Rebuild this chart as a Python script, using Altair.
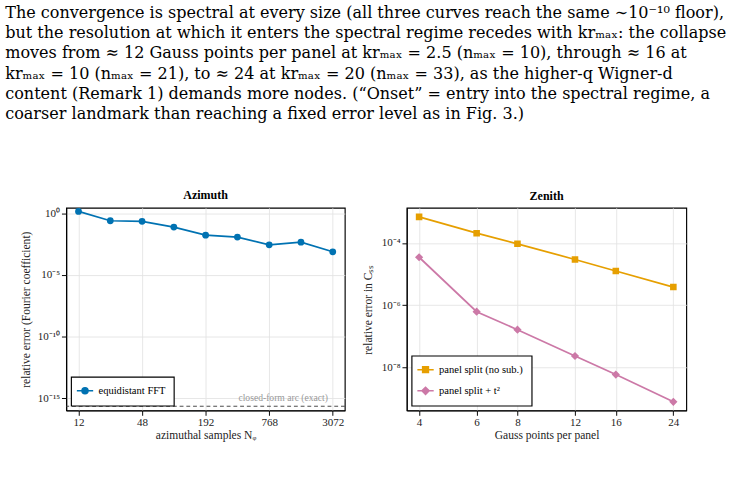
import altair as alt
import pandas as pd

# ---------------- text above the figure ----------------
para_lines = [
    "The convergence is spectral at every size (all three curves reach the same \u223c10\u207b\u00b9\u2070 floor),",
    "but the resolution at which it enters the spectral regime recedes with kr\u2098\u2090\u2093: the collapse",
    "moves from \u2248 12 Gauss points per panel at kr\u2098\u2090\u2093 = 2.5 (n\u2098\u2090\u2093 = 10), through \u2248 16 at",
    "kr\u2098\u2090\u2093 = 10 (n\u2098\u2090\u2093 = 21), to \u2248 24 at kr\u2098\u2090\u2093 = 20 (n\u2098\u2090\u2093 = 33), as the higher-q Wigner-d",
    "content (Remark 1) demands more nodes. (\u201cOnset\u201d = entry into the spectral regime, a",
    "coarser landmark than reaching a fixed error level as in Fig. 3.)",
]

# ---------------- Azimuth panel data ----------------
az_N = [12, 24, 48, 96, 192, 384, 768, 1536, 3072]
az_err = [1.43, 0.25, 0.225, 0.077, 0.017, 0.0118, 0.0028, 0.0046, 7.6e-4]
az_series = ["equidistant FFT"]
az_ticks = [12, 48, 192, 768, 3072]
az_yticks = [1, 1e-5, 1e-10, 1e-15]
eps_floor = [2.22e-16]
eps_label = ["closed-form arc (exact)"]

# ---------------- Zenith panel data ----------------
zen_q = [4, 6, 8, 12, 16, 24]
zen_nosub = [7.0e-4, 2.09e-4, 9.5e-5, 2.97e-5, 1.26e-5, 3.83e-6]
zen_t2 = [3.5e-5, 6.15e-7, 1.62e-7, 2.3e-8, 5.8e-9, 7.7e-10]
zen_series = ["panel split (no sub.)", "panel split + t\u00b2"]
zen_yticks = [1e-4, 1e-6, 1e-8]

BLUE, ORANGE, PINK = "#0072B2", "#E69F00", "#CC79A7"
SERIF = "Liberation Serif"
PARA_FONT = "DejaVu Serif"

# marker glyphs with a short line through them (the line has no area, so it is
# invisible when only filled, and shows in the legend where the symbol is stroked)
P_CIRCLE = "M-1.7,0H1.7M-0.62,0A0.62,0.62,0,1,1,0.62,0A0.62,0.62,0,1,1,-0.62,0Z"
P_SQUARE = "M-1.7,0H1.7M-0.6,-0.6H0.6V0.6H-0.6Z"
P_DIAMOND = "M-1.7,0H1.7M0,-0.75L0.75,0L0,0.75L-0.75,0Z"


def pow10_expr(exps):
    sup = {"-": "\u207b", "0": "\u2070", "1": "\u00b9", "2": "\u00b2", "3": "\u00b3",
           "4": "\u2074", "5": "\u2075", "6": "\u2076", "7": "\u2077", "8": "\u2078", "9": "\u2079"}
    expr = "''"
    for e in exps:
        s = "10" + "".join(sup[c] for c in str(e))
        expr = f"round(log(datum.value)/LN10) == {e} ? '{s}' : " + expr
    return expr


LEG_STYLE = dict(
    title=None, orient="bottom-left", offset=5,
    fillColor="white", strokeColor="black", cornerRadius=0,
    padding=8.5, symbolSize=100, symbolStrokeWidth=1.6, symbolOpacity=1, labelOffset=8,
    labelFont=SERIF, labelFontSize=11, labelColor="black", rowPadding=8,
)

# ================= Azimuth =================
az_df = pd.DataFrame({"N": az_N, "err": az_err, "series": az_series * len(az_N)})
eps_df = pd.DataFrame({"eps": eps_floor, "label": eps_label, "N": [az_N[-1]]})

sxA = alt.Scale(type="log", base=2, domain=[9.19, 4000], nice=False)
syA = alt.Scale(type="log", domain=[1e-16, 2.8], nice=False)
xA = alt.X("N:Q", scale=sxA, axis=alt.Axis(values=az_ticks, format="d", title="azimuthal samples N\u1d69",
                                           titlePadding=2))
yA = alt.Y("err:Q", scale=syA,
           axis=alt.Axis(values=az_yticks, labelExpr=pow10_expr([0, -5, -10, -15]),
                         title="relative error (Fourier coefficient)",
                         titleX=-42, titleBaseline="middle"))
colA = alt.Scale(domain=az_series, range=[BLUE])

base_az = alt.Chart(az_df)
az_line = base_az.mark_line(strokeWidth=1.8).encode(
    x=xA, y=yA, color=alt.Color("series:N", scale=colA))
az_pts = base_az.mark_point(filled=True, size=50, opacity=1, shape="circle").encode(
    x=xA, y=yA,
    color=alt.Color("series:N", scale=colA,
                    legend=alt.Legend(symbolType=P_CIRCLE, symbolStrokeColor=BLUE,
                                      symbolFillColor=BLUE, **LEG_STYLE)))
eps_rule = alt.Chart(eps_df).mark_rule(color="#444444", strokeDash=[4, 3], strokeWidth=1).encode(
    y=alt.Y("eps:Q", scale=syA))
eps_text = alt.Chart(eps_df).mark_text(align="right", baseline="bottom", dx=-5, dy=-3,
                                       font=SERIF, fontSize=10, color="#999999").encode(
    x=alt.X("N:Q", scale=sxA), y=alt.Y("eps:Q", scale=syA), text="label:N")

azimuth = alt.layer(az_line, az_pts, eps_rule, eps_text).properties(
    width=290, height=211,
    title=alt.TitleParams("Azimuth", font=SERIF, fontSize=12.5, fontWeight="bold", offset=6, anchor="middle"))

# ================= Zenith =================
zen_df = pd.DataFrame({
    "q": zen_q * 2,
    "err": zen_nosub + zen_t2,
    "series": [zen_series[0]] * len(zen_q) + [zen_series[1]] * len(zen_q),
})
sxZ = alt.Scale(type="log", base=2, domain=[3.668, 26.3], nice=False)
syZ = alt.Scale(type="log", domain=[4.03e-10, 1.37e-3], nice=False)
xZ = alt.X("q:Q", scale=sxZ, axis=alt.Axis(values=zen_q, format="d", title="Gauss points per panel",
                                           titlePadding=2))
yZ = alt.Y("err:Q", scale=syZ,
           axis=alt.Axis(values=zen_yticks, labelExpr=pow10_expr([-4, -6, -8]),
                         title="relative error in C\u209b\u209b",
                         titleX=-40.5, titleBaseline="middle"))
colZ = alt.Scale(domain=zen_series, range=[ORANGE, PINK])
shpZ = alt.Scale(domain=zen_series, range=[P_SQUARE, P_DIAMOND])
legZ = alt.Legend(
    symbolStrokeColor=alt.ExprRef(expr=f"datum.value === '{zen_series[0]}' ? '{ORANGE}' : '{PINK}'"),
    **LEG_STYLE)

base_z = alt.Chart(zen_df)
z_line = base_z.mark_line(strokeWidth=1.8).encode(
    x=xZ, y=yZ, color=alt.Color("series:N", scale=colZ))
z_pts = base_z.mark_point(filled=True, size=130, opacity=1).encode(
    x=xZ, y=yZ,
    color=alt.Color("series:N", scale=colZ, legend=legZ),
    shape=alt.Shape("series:N", scale=shpZ, legend=legZ))

zenith = alt.layer(z_line, z_pts).properties(
    width=291, height=211,
    title=alt.TitleParams("Zenith", font=SERIF, fontSize=12.5, fontWeight="bold", offset=6, anchor="middle"))

chart = alt.hconcat(azimuth, zenith, spacing=14.5).properties(
    padding={"left": 5, "top": -5, "right": 5, "bottom": 5},
    title=alt.TitleParams(text=para_lines, anchor="start", font=PARA_FONT, fontSize=16.7,
                          fontWeight="normal", color="black", lineHeight=21.2, offset=69, dx=-15),
).resolve_scale(color="independent", shape="independent"
).configure(background="white"
).configure_view(stroke="black", strokeWidth=1.2
).configure_legend(strokeWidth=1.2
).configure_axis(
    grid=True, gridColor="#e3e3e3", gridWidth=0.9,
    domainColor="black", domainWidth=1, tickColor="black", tickSize=5, tickWidth=1,
    labelFont=SERIF, labelFontSize=11.5, labelColor="#222222", labelPadding=2,
    titleFont=SERIF, titleFontSize=12, titleFontWeight="normal", titleColor="#222222",
)

chart.save("out.html", embed_options={"renderer": "svg", "actions": False})
